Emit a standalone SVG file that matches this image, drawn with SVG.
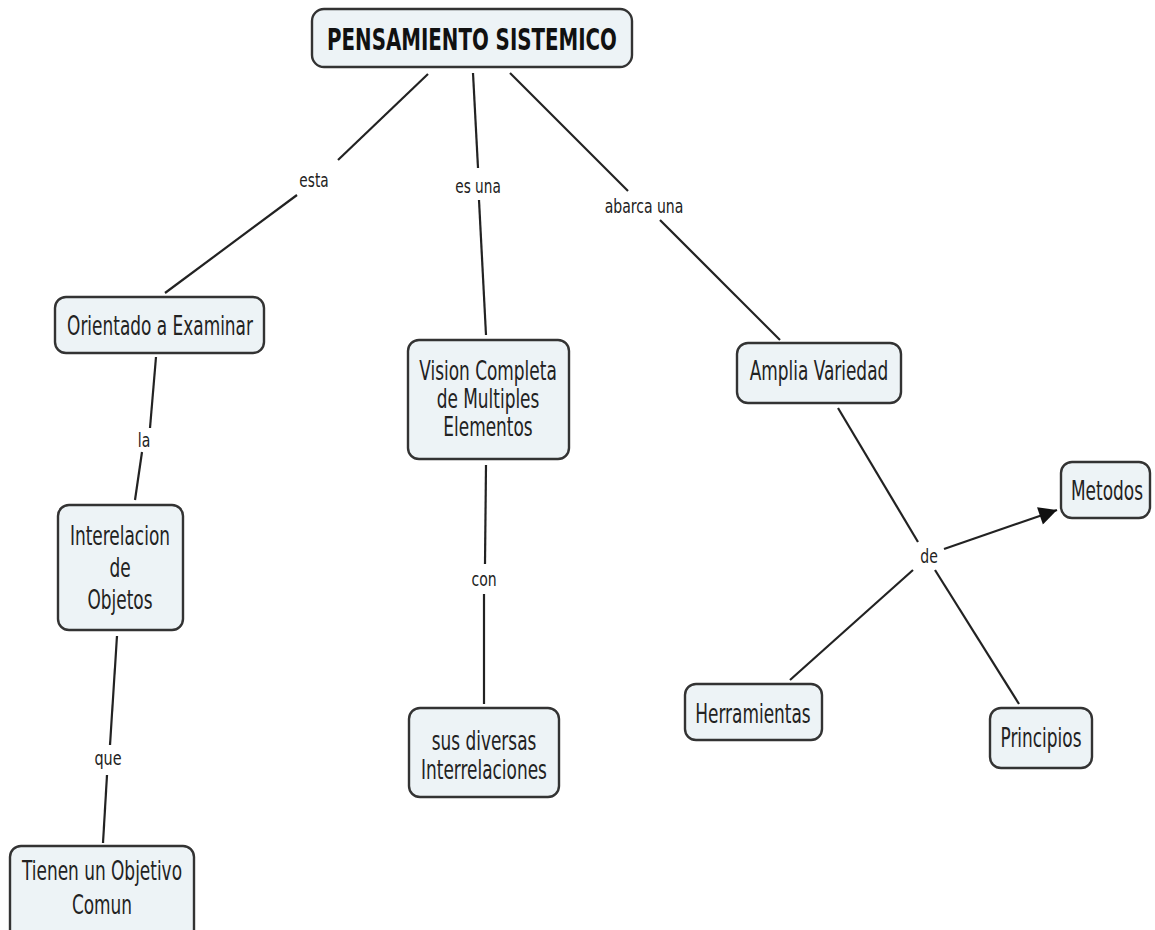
<svg xmlns="http://www.w3.org/2000/svg" width="1155" height="930" viewBox="0 0 1155 930">
<defs>
<style>
.n rect{fill:#edf3f6;stroke:#333;stroke-width:2.4}
.n text{font-family:"DejaVu Sans Condensed","DejaVu Sans",sans-serif;font-stretch:condensed;font-size:26px;fill:#222;text-anchor:middle}
.n text.t{font-weight:bold;font-size:31px;fill:#111}
.c line{stroke:#222;stroke-width:2.2}
.c text{font-family:"DejaVu Sans Condensed","DejaVu Sans",sans-serif;font-stretch:condensed;font-size:20px;fill:#222;text-anchor:middle}
</style>
<marker id="ah" viewBox="0 0 10 10" refX="10" refY="5" markerWidth="20" markerHeight="18" markerUnits="userSpaceOnUse" orient="auto"><path d="M0,0L10,5L0,10z" fill="#111"/></marker>
</defs>
<rect width="1155" height="930" fill="#fff"/>
<g class="c" id="connectors">
<line x1="428" y1="74" x2="338" y2="160"/><line x1="297" y1="195" x2="165" y2="293"/><text transform="translate(314,187) scale(0.76,1)">esta</text>
<line x1="473" y1="73" x2="478" y2="168"/><line x1="479" y1="200" x2="486" y2="335"/><text transform="translate(478,193) scale(0.76,1)">es una</text>
<line x1="510" y1="73" x2="628" y2="191"/><line x1="660" y1="220" x2="780" y2="340"/><text transform="translate(644,213) scale(0.78,1)">abarca una</text>
<line x1="156" y1="357" x2="150" y2="428"/><line x1="142" y1="452" x2="135" y2="500"/><text transform="translate(144,447) scale(0.78,1)">la</text>
<line x1="117" y1="636" x2="110" y2="745"/><line x1="107" y1="775" x2="103" y2="843"/><text transform="translate(108,765) scale(0.8,1)">que</text>
<line x1="486" y1="465" x2="485" y2="564"/><line x1="484" y1="594" x2="484" y2="704"/><text transform="translate(484,586) scale(0.78,1)">con</text>
<line x1="838" y1="408" x2="918" y2="542"/><line x1="913" y1="570" x2="790" y2="680"/><line x1="935" y1="570" x2="1019" y2="704"/><line x1="944" y1="549" x2="1057" y2="510" marker-end="url(#ah)"/><text transform="translate(929,563) scale(0.78,1)">de</text>
</g>
<g class="n" id="n-pensamiento"><rect x="312" y="9" width="320" height="58" rx="12"/><text class="t" transform="translate(472,50) scale(0.71,1)">PENSAMIENTO SISTEMICO</text></g>
<g class="n" id="n-orientado"><rect x="55" y="297" width="209" height="56" rx="11"/><text transform="translate(160,335) scale(0.725,1)">Orientado a Examinar</text></g>
<g class="n" id="n-vision"><rect x="408" y="340" width="161" height="119" rx="11"/><text transform="translate(488,380) scale(0.725,1)">Vision Completa</text><text transform="translate(488,408) scale(0.725,1)">de Multiples</text><text transform="translate(488,436) scale(0.725,1)">Elementos</text></g>
<g class="n" id="n-amplia"><rect x="737" y="343" width="164" height="60" rx="11"/><text transform="translate(819,380) scale(0.725,1)">Amplia Variedad</text></g>
<g class="n" id="n-metodos"><rect x="1061" y="462" width="89" height="56" rx="11"/><text transform="translate(1107,500) scale(0.725,1)">Metodos</text></g>
<g class="n" id="n-interelacion"><rect x="58" y="505" width="125" height="125" rx="11"/><text transform="translate(120,545) scale(0.725,1)">Interelacion</text><text transform="translate(120,577) scale(0.725,1)">de</text><text transform="translate(120,609) scale(0.725,1)">Objetos</text></g>
<g class="n" id="n-sus"><rect x="409" y="708" width="150" height="89" rx="11"/><text transform="translate(484,750) scale(0.725,1)">sus diversas</text><text transform="translate(484,779) scale(0.725,1)">Interrelaciones</text></g>
<g class="n" id="n-herramientas"><rect x="685" y="684" width="137" height="56" rx="11"/><text transform="translate(753,723) scale(0.725,1)">Herramientas</text></g>
<g class="n" id="n-principios"><rect x="990" y="708" width="102" height="60" rx="11"/><text transform="translate(1041,747) scale(0.725,1)">Principios</text></g>
<g class="n" id="n-tienen"><rect x="10" y="846" width="184" height="96" rx="11"/><text transform="translate(102,880) scale(0.725,1)">Tienen un Objetivo</text><text transform="translate(102,914) scale(0.725,1)">Comun</text></g>
</svg>
